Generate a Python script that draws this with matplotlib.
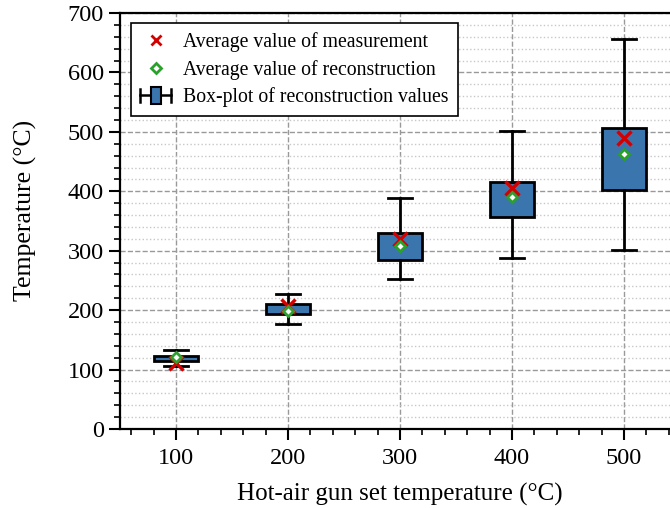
import matplotlib.pyplot as plt
from matplotlib.lines import Line2D
from matplotlib.patches import Rectangle
from matplotlib.legend_handler import HandlerBase
from matplotlib.ticker import MultipleLocator

plt.rcParams['font.family'] = ['Liberation Serif', 'DejaVu Serif']
plt.rcParams['mathtext.fontset'] = 'stix'

# hot-air gun set points and reconstruction statistics (deg C)
set_temps = [100, 200, 300, 400, 500]
whisk_lo = [106, 177, 252, 287, 301]
q1 = [114, 194, 284, 356, 402]
med = [118, 201, 306, 388, 455]
q3 = [123, 210, 329, 415, 507]
whisk_hi = [133, 228, 388, 502, 657]
meas_mean = [111, 207, 319, 406, 490]
recon_mean = [121, 199, 308, 390, 463]

box_color = '#3a75ae'


class BoxHandler(HandlerBase):
    # little "H[]H" glyph for the legend entry
    def create_artists(self, legend, orig, xd, yd, w, h, fontsize, trans):
        cy = h / 2 - yd
        x0, x1 = -xd, -xd + w
        arts = [Line2D([x0, x1], [cy, cy], color='k', lw=1.8)]
        for x in (x0, x1):
            arts.append(Line2D([x, x], [cy - h * 0.45, cy + h * 0.45], color='k', lw=1.8))
        bw = w * 0.32
        arts.append(Rectangle((x0 + w / 2 - bw / 2, cy - h * 0.6), bw, h * 1.2,
                              facecolor=box_color, edgecolor='k', lw=1.5))
        for a in arts:
            a.set_transform(trans)
        return arts


fig = plt.figure(figsize=(6.7, 5.08), dpi=100)
ax = fig.add_axes([120 / 670, 79 / 508, 560 / 670, 416 / 508])

stats = []
for i in range(len(set_temps)):
    stats.append({'whislo': whisk_lo[i], 'q1': q1[i], 'med': med[i],
                  'q3': q3[i], 'whishi': whisk_hi[i], 'fliers': []})

ax.bxp(stats, positions=set_temps, widths=40, patch_artist=True,
       showfliers=False,
       boxprops=dict(facecolor=box_color, edgecolor='k', linewidth=2),
       whiskerprops=dict(color='k', linewidth=2),
       capprops=dict(color='k', linewidth=2),
       medianprops=dict(color=box_color, linewidth=0),
       capwidths=22, zorder=3)

ax.plot(set_temps, meas_mean, 'x', color='#d40000', ms=10, mew=2.4, zorder=5)
ax.plot(set_temps, recon_mean, 'D', color='#2ca02c', mfc='white', ms=5.5,
        mew=2, zorder=6)

ax.set_xlim(50, 550)
ax.set_ylim(0, 700)
ax.set_xticks(set_temps)
ax.set_xticklabels([str(t) for t in set_temps])
ax.xaxis.set_minor_locator(MultipleLocator(20))
ax.yaxis.set_major_locator(MultipleLocator(100))
ax.yaxis.set_minor_locator(MultipleLocator(20))

ax.set_axisbelow(True)
ax.grid(True, which='major', axis='both', linestyle='--', color='#999999', lw=1)
ax.grid(True, which='minor', axis='y', linestyle=':', color='#c8c8c8', lw=1)

ax.tick_params(axis='both', which='major', labelsize=17.5, length=8, width=1.5,
               direction='out')
ax.tick_params(axis='x', which='major', pad=6)
ax.tick_params(axis='both', which='minor', length=4, width=1.2, direction='out')
for s in ax.spines.values():
    s.set_linewidth(1.6)

ax.set_xlabel('Hot-air gun set temperature (°C)', fontsize=18, labelpad=10)
ax.set_ylabel('Temperature (°C)', fontsize=18.5)
ax.yaxis.set_label_coords(-0.148, 0.526)

h_meas = Line2D([], [], ls='none', marker='x', color='#d40000', ms=7, mew=2)
h_rec = Line2D([], [], ls='none', marker='D', color='#2ca02c', mfc='white',
               ms=5, mew=2)
h_box = Rectangle((0, 0), 1, 1)
leg = ax.legend([h_meas, h_rec, h_box],
                ['Average value of measurement', 'Average value of reconstruction',
                 'Box-plot of reconstruction values'],
                handler_map={Rectangle: BoxHandler()},
                loc='upper left', bbox_to_anchor=(11 / 560, 406 / 416),
                borderaxespad=0, fontsize=14.2,
                fancybox=False, edgecolor='k', framealpha=1, handlelength=1.6,
                handletextpad=0.6, borderpad=0.45, labelspacing=0.4)
leg.get_frame().set_linewidth(1.2)

fig.savefig('out.png', dpi=100)
